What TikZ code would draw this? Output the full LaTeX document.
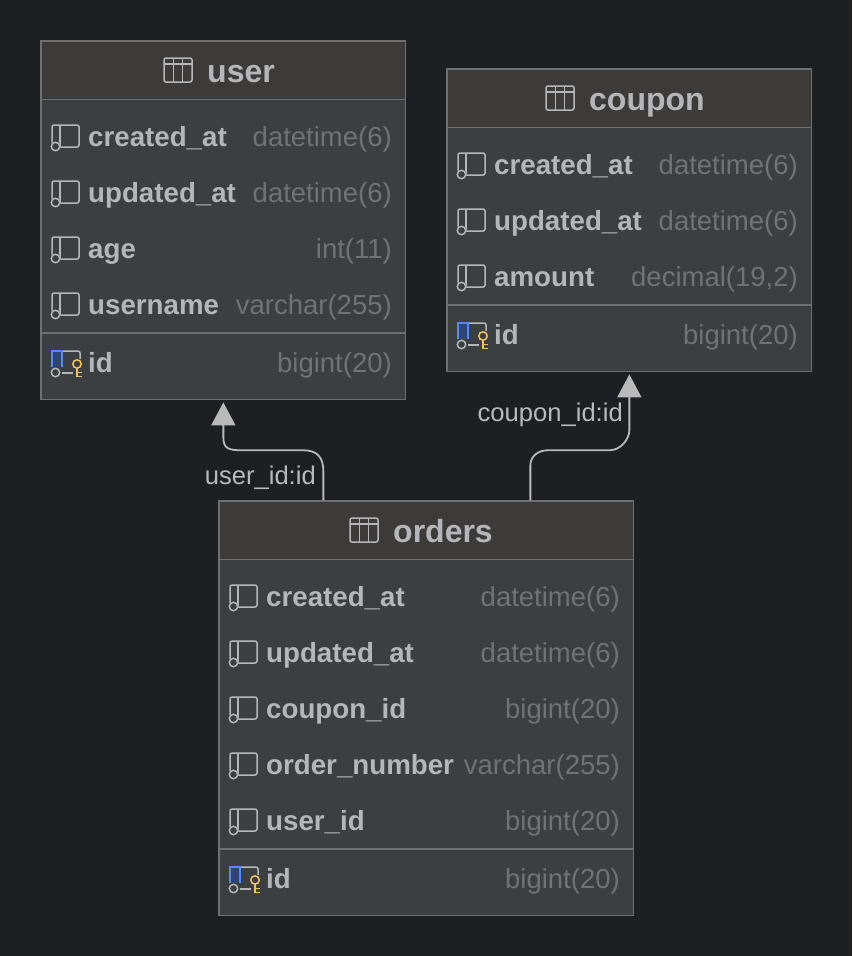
\documentclass[tikz,border=0pt]{standalone}
\usepackage{fontspec}
\setmainfont{Liberation Sans}
\usetikzlibrary{arrows.meta}

\definecolor{fond}{HTML}{1E1F22}
\definecolor{entete}{HTML}{3C3B39}
\definecolor{corps}{HTML}{3B3F42}
\definecolor{bord}{HTML}{6E6F70}
\definecolor{texte}{HTML}{B5B6B9}
\definecolor{typetxt}{HTML}{6F7376}
\definecolor{lien}{HTML}{BABABA}
\definecolor{clef}{HTML}{F2C55C}
\definecolor{bleu}{HTML}{548AF7}
\definecolor{bleufond}{HTML}{2F4470}

\tikzset{
  tablebox/.style={draw=bord,fill=corps,line width=1.4pt,inner sep=0pt,anchor=north west},
  headbox/.style={draw=bord,fill=entete,line width=1.4pt,inner sep=0pt,anchor=north west},
  titletxt/.style={anchor=base west,inner sep=0pt,text=texte,font=\fontsize{32}{32}\selectfont\bfseries},
  nametxt/.style={anchor=base west,inner sep=0pt,text=texte,font=\fontsize{27.7}{28}\selectfont\bfseries},
  typetxt/.style={anchor=base east,inner sep=0pt,text=typetxt,font=\fontsize{27.5}{28}\selectfont},
  linktxt/.style={anchor=base east,inner sep=0pt,text=lien,font=\fontsize{25.6}{26}\selectfont},
  icone/.style={draw=texte,line width=1.5pt,rounded corners=2pt},
  link/.style={draw=lien,line width=1.8pt,shorten >=2pt,-{Triangle[width=24pt,length=23pt]}},
}

% #1 name, #2 x, #3 y, #4 width, #5 height, #6 title, #7 title x
\newcommand{\dbtable}[7]{
  \node[tablebox,minimum width=#4pt+0.7pt,minimum height=#5pt+0.7pt] (#1) at (#2-0.7,#3-0.7) {};
  \node[headbox,minimum width=#4pt+0.7pt,minimum height=58.7pt] (#1head) at (#2-0.7,#3-0.7) {};
  \node[titletxt] (#1title) at (#7,#3+41) {#6};
  \begin{scope}[shift={(#7-43,#3+29)}]
    \draw[icone] (0,-12) rectangle (28,12);
    \draw[icone,rounded corners=0pt] (0,-6) -- (28,-6) (9.3,-12) -- (9.3,12) (18.7,-12) -- (18.7,12);
  \end{scope}
}
% #1 node, #2 table, #3 x left, #4 x right, #5 y, #6 name, #7 type
\newcommand{\colrow}[7]{
  \begin{scope}[shift={(#3+11,#5)}]
    \draw[icone] (0,6) -- (0,-12) -- (27,-12) -- (27,10) -- (8,10);
    \draw[icone,rounded corners=0pt] (8,-12) -- (8,10);
    \fill[corps] (3.5,9.5) circle (5);
    \draw[icone] (3.5,9.5) circle (4.2);
  \end{scope}
  \node[nametxt] (#1name) at (#3+47,#5+9) {#6};
  \node[typetxt] (#1type) at (#4-13,#5+9) {#7};
}
% same with the key
\newcommand{\keyrow}[7]{
  \draw[bord,line width=1.4pt] (#3,#5-30) -- (#4,#5-30);
  \begin{scope}[shift={(#3+11,#5)}]
    \draw[icone] (10,-12) -- (28,-12) -- (28,-4);
    \draw[icone] (10,10) -- (21,10);
    \fill[bleufond,draw=bleu,line width=1.5pt] (0,4) -- (0,-12) -- (10,-12) -- (10,4);
    \fill[corps] (3.5,9.5) circle (5);
    \draw[icone] (3.5,9.5) circle (4.2);
    \draw[clef,line width=1.5pt] (25,1) circle (4.2);
    \draw[clef,line width=1.5pt] (25,5) -- (25,14) (25,9.5) -- (29.5,9.5) (25,13.5) -- (29.5,13.5);
  \end{scope}
  \node[nametxt] (#1name) at (#3+47,#5+9) {#6};
  \node[typetxt] (#1type) at (#4-13,#5+9) {#7};
}

\begin{document}
\begin{tikzpicture}[x=1pt,y=-1pt]
    \useasboundingbox[fill=fond] (0,0) rectangle (852,956);

% ------ user -----------
    \dbtable{user}{41}{41}{364}{358}{user}{207}
    \colrow{ua}{user}{41}{405}{137}{created\_at}{datetime(6)}
    \colrow{ub}{user}{41}{405}{193}{updated\_at}{datetime(6)}
    \colrow{uc}{user}{41}{405}{249}{age}{int(11)}
    \colrow{ud}{user}{41}{405}{305}{username}{varchar(255)}
    \keyrow{ue}{user}{41}{405}{363}{id}{bigint(20)}

% ------ coupon -----------
    \dbtable{coupon}{447}{69}{364}{302}{coupon}{589}
    \colrow{ca}{coupon}{447}{811}{165}{created\_at}{datetime(6)}
    \colrow{cb}{coupon}{447}{811}{221}{updated\_at}{datetime(6)}
    \colrow{cc}{coupon}{447}{811}{277}{amount}{decimal(19,2)}
    \keyrow{cd}{coupon}{447}{811}{335}{id}{bigint(20)}

% ------ orders -----------
    \dbtable{orders}{219}{501}{414}{414}{orders}{393}
    \colrow{oa}{orders}{219}{633}{597}{created\_at}{datetime(6)}
    \colrow{ob}{orders}{219}{633}{653}{updated\_at}{datetime(6)}
    \colrow{oc}{orders}{219}{633}{709}{coupon\_id}{bigint(20)}
    \colrow{od}{orders}{219}{633}{765}{order\_number}{varchar(255)}
    \colrow{oe}{orders}{219}{633}{821}{user\_id}{bigint(20)}
    \keyrow{of}{orders}{219}{633}{879}{id}{bigint(20)}

% ------ links -----------
    \coordinate (fromuser) at ([xshift=-103pt]orders.north);
    \coordinate (fromcoupon) at ([xshift=104pt]orders.north);

    \draw[link] (fromuser) -- ++(0,-29) .. controls ++(0,-14) and ++(14,0) .. ++(-20,-21)
        -- ++(-60,0) .. controls ++(-14,0) and ++(0,12) .. ++(-20,-13) -- (user.south);
    \draw[link] (fromcoupon) -- ++(0,-35) .. controls ++(0,-9) and ++(-9,0) .. ++(17,-15)
        -- ++(62,0) .. controls ++(12,0) and ++(0,8) .. ++(20,-20) -- (coupon.south);

    \node[linktxt] (userlabel) at (316,484) {user\_id:id};
    \node[linktxt] (couponlabel) at (623,421) {coupon\_id:id};
\end{tikzpicture}
\end{document}
